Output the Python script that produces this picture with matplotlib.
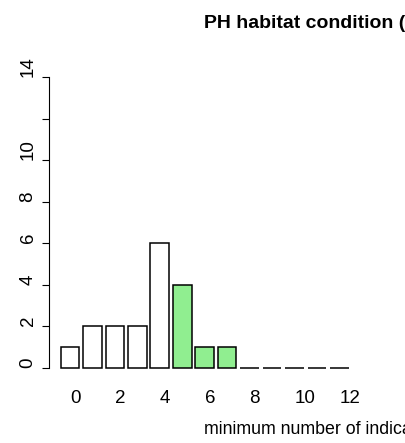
import numpy as np
import matplotlib.pyplot as plt

plt.rcParams['font.family'] = ['Liberation Sans', 'DejaVu Sans']

# counts per minimum number of indicators (0..12)
categories = list(range(13))
counts = [1, 2, 2, 2, 6, 4, 1, 1, 0, 0, 0, 0, 0]
highlight = [5, 6, 7]
y_ticks = [0, 2, 4, 6, 8, 10, 12, 14]
y_labels = ['0', '2', '4', '6', '8', '10', '', '14']
title = "PH habitat condition (observed)"
xlabel = "minimum number of indicators"

W, H = 405, 443
fig = plt.figure(figsize=(W / 100, H / 100), dpi=100)
# axes placed in pixels: spine at x=49, y range 77..368 (top-down)
ax = fig.add_axes([49 / W, 75 / H, 311 / W, 291 / H])

# R barplot style positions: width 1, space 0.2
centers = 0.7 + 1.2 * np.array(categories)
colors = ['#90EE90' if c in highlight else 'white' for c in categories]
ax.bar(centers, counts, width=1.0, color=colors, edgecolor='black',
       linewidth=1.1, clip_on=False)

ax.set_xlim(-0.42, 16.2)
ax.set_ylim(0, 14)

for s in ['top', 'right', 'bottom']:
    ax.spines[s].set_visible(False)
ax.spines['left'].set_linewidth(0.8)

ax.set_yticks(y_ticks)
ax.set_yticklabels(y_labels, rotation=90, va='bottom', fontsize=13.5)
ax.tick_params(axis='y', length=5, width=0.8, pad=4)

even = [c for c in categories if c % 2 == 0]
ax.set_xticks(centers[even])
ax.set_xticklabels([str(c) for c in even], ha='left', fontsize=13.5)
ax.tick_params(axis='x', length=0, pad=15.5)

fig.text(204 / W, (H - 28) / H, title, ha='left', va='baseline',
         fontsize=14, fontweight='bold')
fig.text(204 / W, 9 / H, xlabel, ha='left', va='baseline', fontsize=12.8)

fig.savefig('out.png', dpi=100)
